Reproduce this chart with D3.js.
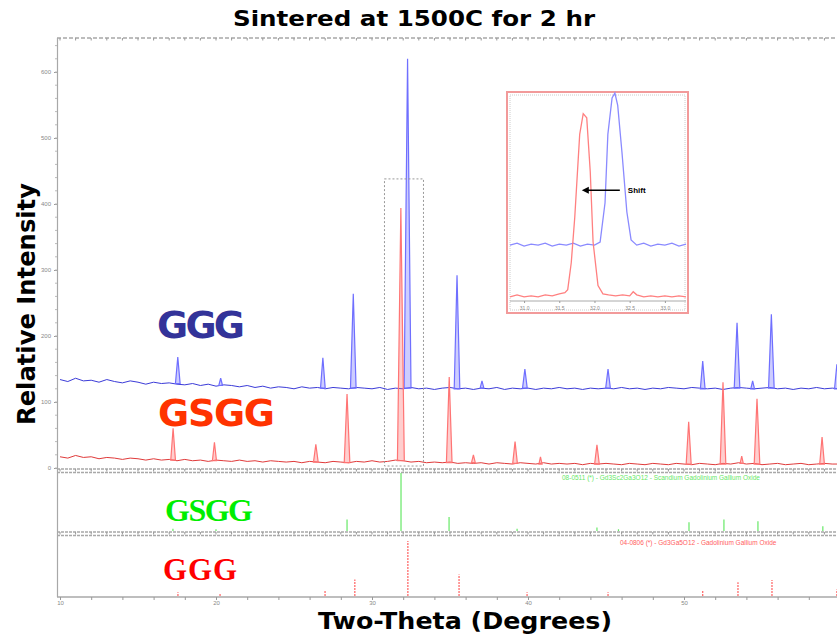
<!DOCTYPE html>
<html><head><meta charset="utf-8">
<script src="https://cdn.jsdelivr.net/npm/d3@7"></script>
<style>body{margin:0;background:#fff}</style>
</head><body><svg id="c" width="837" height="634"></svg>
<script>
// ---------- DATA ----------
const title = "Sintered at 1500C for 2 hr";
const xTitle = "Two-Theta (Degrees)";
const yTitle = "Relative Intensity";
const xTickLabels = [10, 20, 30, 40, 50];
const yTickLabels = [0, 100, 200, 300, 400, 500, 600];
const baseStart = 10, baseStep = 0.5;
// measured background (counts) every 0.5 deg from 10 to 60
const gggBaseline = [134,131,136,132,133,130,134,131,129,132,
 130,127,130,128,129,127,126,128,125,127,
 124,126,125,123,125,122,124,121,123,122,
 120,123,121,122,120,122,121,120,122,121,
 120,122,119,121,120,122,120,121,119,121,
 122,120,121,119,121,120,122,119,121,120,
 121,119,121,120,122,120,121,119,121,120,
 121,120,122,120,121,119,121,120,122,121,
 120,122,121,120,121,119,121,122,121,120,
 121,122,120,121,119,121,120,122,120,121,120];
const gsggBaseline = [17,15,19,16,17,14,16,15,13,15,
 14,12,14,12,13,11,13,11,12,10,
 12,11,10,12,10,11,9,11,10,9,
 10,8,10,9,8,10,9,8,10,9,
 11,9,10,12,11,9,10,8,9,8,
 9,7,8,7,8,6,8,7,6,8,
 7,6,8,6,7,6,7,5,7,6,
 7,6,5,7,6,5,7,6,5,7,
 6,5,7,6,5,7,6,8,6,7,
 5,6,7,5,6,7,5,6,7,6,6];
// peaks: [2theta, top counts, foot counts, half-width deg]
const gggPeaks = [[17.55,168,128,0.15],[20.3,136,125,0.12],[26.85,167,121,0.15],[28.8,264,121,0.18],
 [32.28,620,121,0.22],[35.45,292,120,0.18],[37.05,132,121,0.12],[39.8,150,121,0.15],[45.13,150,121,0.15],
 [51.2,162,120,0.15],[53.4,220,121,0.18],[54.4,132,120,0.12],[55.6,233,121,0.18],[59.8,157,120,0.15]];
const gsggPeaks = [[17.25,60,12,0.15],[19.9,39,11,0.13],[26.4,36,9,0.15],[28.4,112,8,0.18],
 [31.85,394,11,0.22],[34.95,138,8,0.18],[36.5,20,8,0.12],[39.17,40,7,0.15],[40.8,17,6,0.1],
 [44.42,35,6,0.15],[50.3,70,6,0.16],[52.5,130,6,0.18],[53.7,18,7,0.1],[54.68,105,6,0.18],[58.85,47,6,0.15]];
// reference stick patterns [2theta, relative intensity %]
const gsggSticks = [[17.24,4],[20.0,3],[28.4,20],[31.86,100],[34.94,24],[39.3,4],[44.42,6],[45.8,3],
 [50.32,15],[52.56,20],[54.74,17],[58.9,8]];
const gggSticks = [[17.56,7],[20.26,4],[26.99,11],[28.9,30],[32.3,100],[35.58,39],[39.94,7],[45.13,7],
 [51.2,11],[53.46,25],[55.64,29],[59.8,12]];
const gsggCard = "08-0511 (*) - Gd3Sc2Ga3O12 - Scandium Gadolinium Gallium Oxide";
const gggCard = "04-0806 (*) - Gd3Ga5O12 - Gadolinium Gallium Oxide";
// inset (zoom of main peak)
const insetRange = [30.8, 33.3];
const insetBoxTop = 438;
const insetTicks = [31, 31.5, 32, 32.5, 33];
const insetGGG = [[30.8,26.5],[30.9,27.5],[31.0,26],[31.1,27],[31.2,26.5],[31.3,27.5],[31.4,26],[31.5,27],
 [31.6,26.5],[31.7,27.5],[31.8,26],[31.9,27],[32.0,26.5],[32.08,28],[32.15,47],[32.19,80],[32.25,97.6],
 [32.29,100],[32.33,94],[32.39,71.5],[32.46,42.5],[32.52,29],[32.6,26.5],[32.7,27.5],[32.8,26],[32.9,27],
 [33.0,26.5],[33.1,27.5],[33.2,26],[33.3,27]];
const insetGSGG = [[30.8,1.5],[30.9,2.5],[31.0,1.5],[31.1,2],[31.2,1.5],[31.3,2.5],[31.4,2],[31.5,3],
 [31.58,3.5],[31.62,5],[31.67,18],[31.72,40],[31.79,80],[31.84,90],[31.89,88],[31.94,62],[31.98,28],
 [32.05,7],[32.12,3],[32.2,2.5],[32.3,2],[32.4,2.5],[32.5,2],[32.55,4],[32.6,2.5],[32.7,1.5],[32.8,2],
 [32.9,1.5],[33.0,2],[33.1,1.5],[33.2,2],[33.3,1.5]];
const shiftArrow = {from: 32.36, to: 31.82, level: 53, label: "Shift"};

// ---------- DRAW ----------
const svg = d3.select('#c');
const x = d3.scaleLinear().domain([10, 60]).range([60, 840]);
const y = d3.scaleLinear().domain([0, 600]).range([468, 72]);
const line = d3.line().x(d => x(d[0])).y(d => y(d[1]));

svg.append('defs').append('clipPath').attr('id','clip')
  .append('rect').attr('x',58).attr('y',38).attr('width',780).attr('height',431);

const FONT = "'DejaVu Sans', Verdana, sans-serif";
// title
svg.append('text').attr('x',414).attr('y',26).attr('text-anchor','middle')
  .attr('font-family',FONT).attr('font-weight','bold').attr('font-size',22)
  .attr('textLength',362).attr('lengthAdjust','spacingAndGlyphs').text(title);
// axis titles
svg.append('text').attr('x',465).attr('y',629).attr('text-anchor','middle')
  .attr('font-family',FONT).attr('font-weight','bold').attr('font-size',23)
  .attr('textLength',294).attr('lengthAdjust','spacingAndGlyphs').text(xTitle);
svg.append('text').attr('transform','translate(35,304) rotate(-90)').attr('text-anchor','middle')
  .attr('font-family',FONT).attr('font-weight','bold').attr('font-size',24)
  .attr('textLength',242).attr('lengthAdjust','spacingAndGlyphs').text(yTitle);

const gray = '#a8a8a8';
// frame lines
function hline(yy, dash, w){ svg.append('line').attr('x1',57).attr('x2',837).attr('y1',yy).attr('y2',yy)
  .attr('stroke',gray).attr('stroke-width',w||1).attr('stroke-dasharray',dash||null); }
hline(38,'4,2',1.5); hline(469,'3,1',1.5); hline(472.5,'3,1',1.5);
hline(532,'3,1',1.5); hline(535.5,'3,1',1.5); hline(597,null,1.5);
svg.append('line').attr('x1',57.5).attr('x2',57.5).attr('y1',38).attr('y2',597).attr('stroke',gray).attr('stroke-width',1.2);

// y axis ticks
const yAxis = d3.axisLeft(y).tickValues(yTickLabels).tickSize(3).tickFormat(d3.format('d'));
const ga = svg.append('g').attr('transform','translate(57,0)').call(yAxis);
ga.select('.domain').remove();
ga.selectAll('line').attr('stroke','#999');
ga.selectAll('text').attr('font-size',6).attr('fill','#888').attr('font-family','Arial');
svg.append('g').selectAll('line').data(d3.range(0,651,20)).join('line')
  .attr('x1',55).attr('x2',57).attr('y1',d=>y(d)).attr('y2',d=>y(d)).attr('stroke','#bbb');

// x axis
const xAxis = d3.axisBottom(x).tickValues(d3.range(10,61,2)).tickSize(3).tickPadding(1)
  .tickFormat(d => xTickLabels.includes(d) ? d : '');
const gx = svg.append('g').attr('transform','translate(0,597)').call(xAxis);
gx.select('.domain').remove();
gx.selectAll('line').attr('stroke','#999');
gx.selectAll('text').attr('font-size',6).attr('fill','#888').attr('font-family','Arial').attr('dy','0.7em');
// ticks along panel separators
[38,469,532].forEach(yy => svg.append('g').selectAll('line').data(d3.range(10,60.1,1)).join('line')
  .attr('x1',d=>x(d)).attr('x2',d=>x(d)).attr('y1',yy).attr('y2',yy+2.5).attr('stroke','#999'));

// main traces
const plot = svg.append('g').attr('clip-path','url(#clip)');
const series = [
  {base: gggBaseline, peaks: gggPeaks, color: '#6f6fff', dark: '#3b3bd8'},
  {base: gsggBaseline, peaks: gsggPeaks, color: '#ff7474', dark: '#e03a3a'}
];
series.forEach(s => {
  const pts = s.base.map((v,i) => [baseStart + i*baseStep, v]);
  plot.append('path').attr('d', line(pts)).attr('fill','none').attr('stroke',s.dark).attr('stroke-width',1);
  s.peaks.forEach(p => {
    const tri = [[p[0]-p[3], p[2]], [p[0], p[1]], [p[0]+p[3], p[2]]];
    plot.append('path').attr('d', line(tri) + 'Z').attr('fill',s.color).attr('fill-opacity',0.35)
      .attr('stroke',s.color).attr('stroke-width',1.2);
  });
});

// dashed box around main peak
svg.append('rect').attr('x',x(insetRange[0])).attr('y',y(insetBoxTop))
  .attr('width',x(insetRange[1])-x(insetRange[0])).attr('height',y(3)-y(insetBoxTop))
  .attr('fill','none').attr('stroke','#999').attr('stroke-dasharray','2,2');

// sample labels
svg.append('text').attr('x',157).attr('y',338).attr('font-family',FONT).attr('font-weight','bold')
  .attr('font-size',38).attr('fill','#333399').attr('textLength',88).text('GGG');
svg.append('text').attr('x',158).attr('y',426).attr('font-family',FONT).attr('font-weight','bold')
  .attr('font-size',38).attr('fill','#ff3300').attr('textLength',117).text('GSGG');
svg.append('text').attr('x',165).attr('y',521).attr('font-family',"'Liberation Serif', 'Times New Roman', serif")
  .attr('font-weight','bold').attr('font-size',32).attr('fill','#00ee00').attr('textLength',88).text('GSGG');
svg.append('text').attr('x',163).attr('y',580).attr('font-family',"'Liberation Serif', 'Times New Roman', serif")
  .attr('font-weight','bold').attr('font-size',31).attr('fill','#ff0000').attr('textLength',74).text('GGG');

// reference sticks
const ys1 = d3.scaleLinear().domain([0,100]).range([531,473]);
const ys2 = d3.scaleLinear().domain([0,100]).range([596,541]);
svg.append('g').selectAll('line').data(gsggSticks).join('line')
  .attr('x1',d=>x(d[0])).attr('x2',d=>x(d[0])).attr('y1',ys1(0)).attr('y2',d=>ys1(d[1]))
  .attr('stroke','#66e866').attr('stroke-width',1.2);
svg.append('g').selectAll('line').data(gggSticks).join('line')
  .attr('x1',d=>x(d[0])).attr('x2',d=>x(d[0])).attr('y1',ys2(0)).attr('y2',d=>ys2(d[1]))
  .attr('stroke','#ff6060').attr('stroke-width',1.2).attr('stroke-dasharray','2,1');
svg.append('text').attr('x',562).attr('y',480).attr('font-family','Arial').attr('font-size',6.5)
  .attr('fill','#66e866').text(gsggCard);
svg.append('text').attr('x',620).attr('y',545).attr('font-family','Arial').attr('font-size',6.5)
  .attr('fill','#ff6060').text(gggCard);

// inset
const ix = d3.scaleLinear().domain(insetRange).range([510,686]);
const iy = d3.scaleLinear().domain([0,100]).range([300,93]);
const iline = d3.line().x(d=>ix(d[0])).y(d=>iy(d[1]));
const ig = svg.append('g');
ig.append('rect').attr('x',507).attr('y',92).attr('width',181).attr('height',221)
  .attr('fill','#fff').attr('stroke','#f29a9a').attr('stroke-width',2);
ig.append('rect').attr('x',510).attr('y',95).attr('width',175).attr('height',215)
  .attr('fill','none').attr('stroke','#ccc').attr('stroke-dasharray','1,1');
ig.append('line').attr('x1',510).attr('x2',686).attr('y1',301).attr('y2',301).attr('stroke','#aaa');
const iax = d3.axisBottom(ix).tickValues(insetTicks).tickSize(2).tickFormat(d3.format('.1f'));
const gia = ig.append('g').attr('transform','translate(0,301)').call(iax);
gia.select('.domain').remove();
gia.selectAll('line').attr('stroke','#999');
gia.selectAll('text').attr('font-size',5).attr('fill','#888').attr('font-family','Arial');
ig.append('path').attr('d',iline(insetGGG)).attr('fill','none').attr('stroke','#8a8aff').attr('stroke-width',1.3);
ig.append('path').attr('d',iline(insetGSGG)).attr('fill','none').attr('stroke','#ff8080').attr('stroke-width',1.3);
// arrow
ig.append('line').attr('x1',ix(shiftArrow.from)).attr('x2',ix(shiftArrow.to)+6)
  .attr('y1',iy(shiftArrow.level)).attr('y2',iy(shiftArrow.level)).attr('stroke','#000').attr('stroke-width',1.5);
ig.append('path').attr('d',`M${ix(shiftArrow.to)},${iy(shiftArrow.level)} l7,-3.5 l0,7 Z`).attr('fill','#000');
ig.append('text').attr('x',ix(shiftArrow.from)+8).attr('y',iy(shiftArrow.level)+3)
  .attr('font-family','Arial').attr('font-weight','bold').attr('font-size',8).text(shiftArrow.label);
</script>
</body></html>
